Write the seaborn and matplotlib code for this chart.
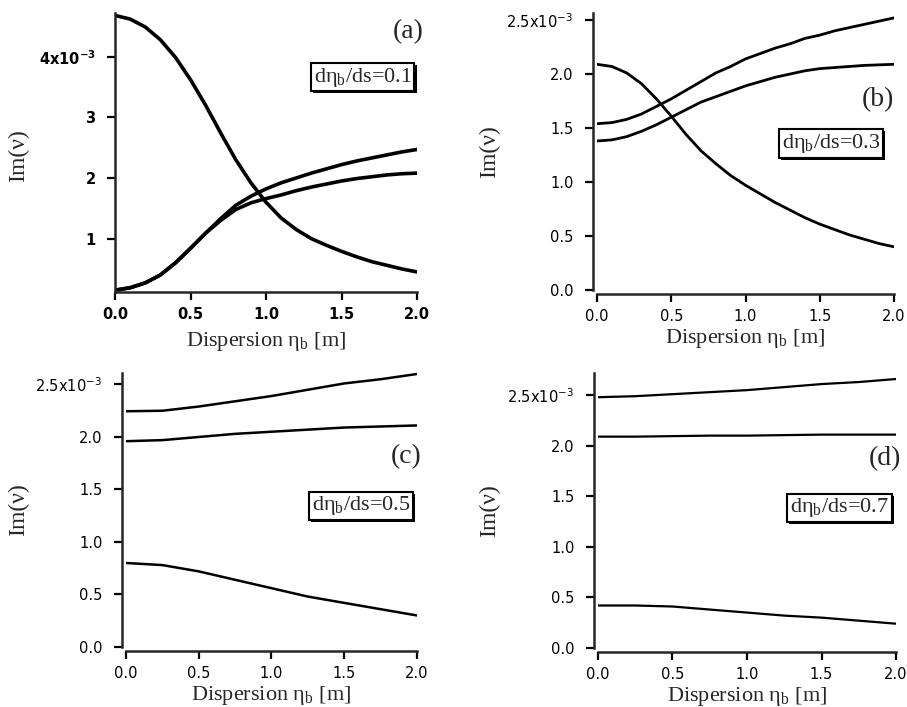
import numpy as np
import pandas as pd
import matplotlib
matplotlib.use("Agg")
import matplotlib.pyplot as plt
import matplotlib.patheffects as pe
import seaborn as sns

# values, Im(nu) in units of 1e-3
x_a = [0.0, 0.1, 0.2, 0.3, 0.4, 0.5, 0.6, 0.7, 0.8, 0.9, 1.0,
       1.1, 1.2, 1.3, 1.4, 1.5, 1.6, 1.7, 1.8, 1.9, 2.0]
a_fall = [4.68, 4.62, 4.49, 4.28, 3.99, 3.62, 3.20, 2.74, 2.30, 1.92, 1.60,
          1.34, 1.15, 1.00, 0.89, 0.79, 0.70, 0.62, 0.56, 0.50, 0.45]
a_rise_hi = [0.15, 0.19, 0.27, 0.40, 0.60, 0.84, 1.09, 1.33, 1.55, 1.70, 1.82,
             1.92, 2.00, 2.08, 2.15, 2.22, 2.28, 2.33, 2.38, 2.43, 2.47]
a_rise_lo = [0.15, 0.19, 0.27, 0.40, 0.60, 0.84, 1.09, 1.30, 1.48, 1.59, 1.66,
             1.72, 1.79, 1.85, 1.90, 1.95, 1.99, 2.02, 2.05, 2.07, 2.08]

x_b = x_a
b_fall = [2.09, 2.07, 2.01, 1.91, 1.77, 1.61, 1.44, 1.29, 1.17, 1.06, 0.97,
          0.89, 0.81, 0.74, 0.67, 0.61, 0.56, 0.51, 0.47, 0.43, 0.40]
b_rise_hi = [1.54, 1.55, 1.58, 1.63, 1.70, 1.77, 1.85, 1.93, 2.01, 2.07, 2.14,
             2.19, 2.24, 2.28, 2.33, 2.36, 2.40, 2.43, 2.46, 2.49, 2.52]
b_rise_lo = [1.38, 1.39, 1.42, 1.47, 1.53, 1.60, 1.67, 1.74, 1.79, 1.84, 1.89,
             1.93, 1.97, 2.00, 2.03, 2.05, 2.06, 2.07, 2.08, 2.085, 2.09]

x_cd = [0.0, 0.25, 0.5, 0.75, 1.0, 1.25, 1.5, 1.75, 2.0]
c_top = [2.245, 2.25, 2.29, 2.34, 2.39, 2.45, 2.51, 2.55, 2.60]
c_mid = [1.96, 1.97, 2.00, 2.03, 2.05, 2.07, 2.09, 2.10, 2.11]
c_low = [0.80, 0.78, 0.72, 0.64, 0.56, 0.48, 0.42, 0.36, 0.30]
d_top = [2.48, 2.49, 2.51, 2.53, 2.55, 2.58, 2.61, 2.63, 2.66]
d_mid = [2.09, 2.09, 2.095, 2.10, 2.10, 2.105, 2.11, 2.11, 2.11]
d_low = [0.42, 0.42, 0.41, 0.38, 0.35, 0.32, 0.30, 0.27, 0.24]

slopes = ["0.1", "0.3", "0.5", "0.7"]
letters = ["(a)", "(b)", "(c)", "(d)"]

sns.set_style("ticks")
plt.rcParams["font.family"] = ["DejaVu Sans"]
plt.rcParams["mathtext.fontset"] = "custom"
plt.rcParams["mathtext.rm"] = "Liberation Serif"

fig = plt.figure(figsize=(9.07, 7.07), dpi=100)

panels = [
    dict(pos=[0.1268, 0.5870, 0.3330, 0.3946], x=x_a, ys=[a_fall, a_rise_hi, a_rise_lo],
         ylim=(0.12, 4.72), yticks=[1, 2, 3, 4], top="4x10$^\\mathregular{-3}$",
         fmt="{:.0f}", lw=2.6, off=0, bold=True,
         ylab=(-0.285, 0.49), letter=(0.97, 0.935), box=(0.82, 0.77)),
    dict(pos=[0.6582, 0.5898, 0.3275, 0.3918], x=x_b, ys=[b_fall, b_rise_hi, b_rise_lo],
         ylim=(0.0, 2.565), yticks=[0, 0.5, 1.0, 1.5, 2.0, 2.5], top="2.5x10$^\\mathregular{-3}$",
         fmt="{:.1f}", lw=2.0, off=3, bold=False,
         ylab=(-0.327, 0.5), letter=(0.946, 0.686), box=(0.788, 0.529)),
    dict(pos=[0.1389, 0.0849, 0.3208, 0.3876], x=x_cd, ys=[c_top, c_mid, c_low],
         ylim=(0.0, 2.61), yticks=[0, 0.5, 1.0, 1.5, 2.0, 2.5], top="2.5x10$^\\mathregular{-3}$",
         fmt="{:.1f}", lw=1.8, off=3, bold=False,
         ylab=(-0.333, 0.5), letter=(0.962, 0.693), box=(0.808, 0.515)),
    dict(pos=[0.6593, 0.0835, 0.3286, 0.3890], x=x_cd, ys=[d_top, d_mid, d_low],
         ylim=(0.0, 2.72), yticks=[0, 0.5, 1.0, 1.5, 2.0, 2.5], top="2.5x10$^\\mathregular{-3}$",
         fmt="{:.1f}", lw=1.6, off=3, bold=False,
         ylab=(-0.329, 0.5), letter=(0.963, 0.69), box=(0.81, 0.51)),
]

for i, p in enumerate(panels):
    ax = fig.add_axes(p["pos"])
    for k, y in enumerate(p["ys"]):
        df = pd.DataFrame({"eta": p["x"], "im": y})
        sns.lineplot(data=df, x="eta", y="im", ax=ax, color="black",
                     linewidth=p["lw"], estimator=None, sort=False)
    ax.set_xlim(0, 2.0)
    ax.set_ylim(*p["ylim"])
    sns.despine(ax=ax)
    for s in ["left", "bottom"]:
        ax.spines[s].set_linewidth(1.8)
        if p["off"]:
            ax.spines[s].set_position(("outward", p["off"]))

    ax.set_xticks([0, 0.5, 1.0, 1.5, 2.0])
    ax.set_xticklabels(["0.0", "0.5", "1.0", "1.5", "2.0"])
    ylabels = [p["fmt"].format(v) for v in p["yticks"]]
    ylabels[-1] = p["top"]
    ax.set_yticks(p["yticks"])
    ax.set_yticklabels(ylabels)
    weight = "bold" if p["bold"] else "normal"
    ax.tick_params(axis="both", direction="out", length=6, width=1.6,
                   labelsize=10.5, colors="black")
    ax.tick_params(axis="x", pad=5)
    ax.tick_params(axis="y", pad=8)
    for t in ax.get_xticklabels() + ax.get_yticklabels():
        t.set_fontweight(weight)

    ax.set_xlabel("Dispersion η$_\\mathregular{b}$ [m]", fontsize=16,
                  family="Liberation Serif")
    ax.xaxis.set_label_coords(0.5, -0.135)
    ax.set_ylabel("Im(ν)", fontsize=17, family="Liberation Serif")
    ax.yaxis.set_label_coords(*p["ylab"])

    ax.text(p["letter"][0], p["letter"][1], letters[i], transform=ax.transAxes,
            ha="center", va="center", fontsize=20, family="Liberation Serif")
    t = ax.text(p["box"][0], p["box"][1],
                "dη$_\\mathregular{b}$/ds=" + slopes[i], transform=ax.transAxes,
                ha="center", va="center", fontsize=16, family="Liberation Serif",
                bbox=dict(boxstyle="square,pad=0.12", fc="white", ec="black", lw=1.5))
    t.get_bbox_patch().set_path_effects([
        pe.SimplePatchShadow(offset=(1.5, -1.5), shadow_rgbFace="black", alpha=1.0),
        pe.Normal()])

fig.savefig("out.png", dpi=100, facecolor="white")
